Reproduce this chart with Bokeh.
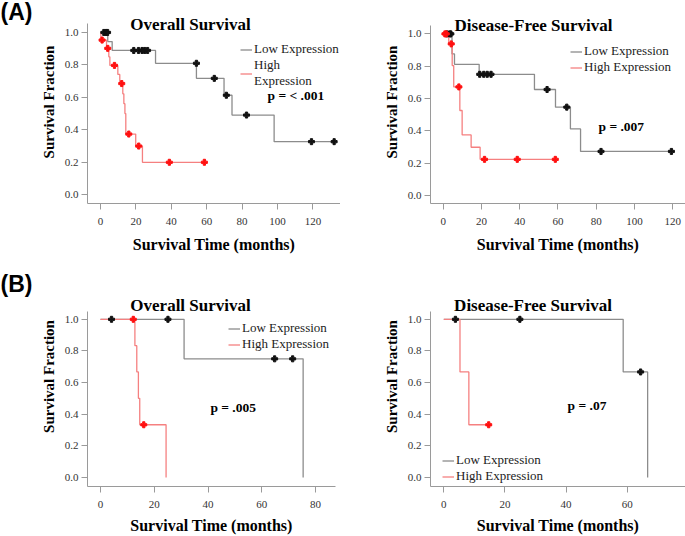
from bokeh.plotting import figure
from bokeh.layouts import row, column
from bokeh.models import (FixedTicker, Label, Range1d, Legend, LegendItem,
                          PrintfTickFormatter)
from bokeh.embed import file_html
from bokeh.resources import INLINE

# ---------------- data ----------------
y_ticks = [0.0, 0.2, 0.4, 0.6, 0.8, 1.0]

# (A) Overall Survival
a_os_x_ticks = [0, 20, 40, 60, 80, 100, 120]
a_os_low_time = [0, 4.1, 6.6, 31.1, 54.2, 69.8, 74.3, 98.1, 132.0]
a_os_low_surv = [1.0, 0.944, 0.889, 0.810, 0.717, 0.613, 0.491, 0.327, 0.327]
a_os_low_cens_t = [1.9, 3.2, 4.0, 18.8, 21.5, 23.5, 25.0, 26.6, 54.2, 64.3, 71.1, 82.5, 119.2, 132.0]
a_os_low_cens_s = [1.0, 1.0, 1.0, 0.889, 0.889, 0.889, 0.889, 0.889, 0.810, 0.717, 0.613, 0.491, 0.327, 0.327]
a_os_high_time = [0, 0.2, 3.4, 4.7, 5.3, 9.8, 10.9, 12.6, 13.2, 13.8, 14.3, 19.9, 23.7, 58.7]
a_os_high_surv = [1.0, 0.953, 0.902, 0.850, 0.797, 0.741, 0.685, 0.622, 0.561, 0.500, 0.374, 0.300, 0.200, 0.200]
a_os_high_cens_t = [0.9, 4.1, 7.9, 12.0, 16.0, 21.6, 38.9, 58.7]
a_os_high_cens_s = [0.953, 0.902, 0.797, 0.685, 0.374, 0.300, 0.200, 0.200]

# (A) Disease-Free Survival
a_dfs_x_ticks = [0, 20, 40, 60, 80, 100, 120]
a_dfs_low_time = [0, 4.6, 5.9, 18.8, 47.7, 58.7, 66.5, 71.8, 119.3]
a_dfs_low_surv = [1.0, 0.876, 0.812, 0.750, 0.656, 0.547, 0.412, 0.273, 0.273]
a_dfs_low_cens_t = [2.0, 3.4, 4.0, 19.1, 21.2, 23.0, 25.0, 54.3, 64.6, 82.5, 119.3]
a_dfs_low_cens_s = [1.0, 1.0, 1.0, 0.750, 0.750, 0.750, 0.750, 0.656, 0.547, 0.273, 0.273]
a_dfs_high_time = [0, 2.9, 4.7, 5.5, 8.7, 9.9, 14.6, 19.3, 58.6]
a_dfs_high_surv = [1.0, 0.938, 0.804, 0.672, 0.526, 0.375, 0.299, 0.224, 0.224]
a_dfs_high_cens_t = [0.9, 1.6, 4.2, 8.2, 21.6, 38.7, 58.6]
a_dfs_high_cens_s = [1.0, 1.0, 0.938, 0.672, 0.224, 0.224, 0.224]

# (B) Overall Survival
b_os_x_ticks = [0, 20, 40, 60, 80]
b_os_low_time = [0, 31.1, 75.4]
b_os_low_surv = [1.0, 0.75, 0.0]
b_os_low_cens_t = [4.1, 25.1, 64.8, 71.5]
b_os_low_cens_s = [1.0, 1.0, 0.75, 0.75]
b_os_high_time = [0, 12.8, 13.5, 14.1, 14.6, 24.4]
b_os_high_surv = [1.0, 0.833, 0.667, 0.500, 0.333, 0.0]
b_os_high_cens_t = [12.2, 16.1]
b_os_high_cens_s = [1.0, 0.333]

# (B) Disease-Free Survival
b_dfs_x_ticks = [0, 20, 40, 60]
b_dfs_low_time = [0, 58.7, 66.7]
b_dfs_low_surv = [1.0, 0.667, 0.0]
b_dfs_low_cens_t = [3.8, 24.9, 64.4]
b_dfs_low_cens_s = [1.0, 1.0, 0.667]
b_dfs_high_time = [0, 5.3, 8.2, 14.7]
b_dfs_high_surv = [1.0, 0.667, 0.333, 0.333]
b_dfs_high_cens_t = [14.7]
b_dfs_high_cens_s = [0.333]

# ---------------- styling ----------------
SERIF = "Liberation Serif"
SANS = "Liberation Sans"
LOW_LINE = "#8c8c8c"
HIGH_LINE = "#f58080"
LOW_MARK = "#111111"
HIGH_MARK = "#ff1010"
AXIS_COL = "#9a9a9a"
TICK_TXT = "#333333"


def letter_fig(width, height, text, pos):
    p = figure(width=width, height=height, x_range=Range1d(0, width),
               y_range=Range1d(0, height), x_axis_type=None, y_axis_type=None,
               output_backend="svg", toolbar_location=None,
               min_border_left=0, min_border_right=0, min_border_top=0,
               min_border_bottom=0)
    p.outline_line_color = None
    p.xgrid.visible = False
    p.ygrid.visible = False
    p.add_layout(Label(x=pos[0], y=pos[1], text=text, text_align="left",
                       text_baseline="middle", text_font=SANS,
                       text_font_style="bold", text_font_size="23px",
                       text_color="#000000"))
    return p


def panel(width, height, borders, xr, yr, ybounds, xticks,
          low, high, title, title_xy, pval, pval_xy,
          legend_loc, high_label, xstand):
    p = figure(width=width, height=height,
               x_range=Range1d(*xr), y_range=Range1d(*yr),
               output_backend="svg", toolbar_location=None,
               min_border_left=borders[0], min_border_right=borders[1],
               min_border_top=borders[2], min_border_bottom=borders[3])
    p.outline_line_color = None
    p.xgrid.visible = False
    p.ygrid.visible = False
    p.background_fill_color = "white"
    p.border_fill_color = "white"

    for ax in (p.xaxis[0], p.yaxis[0]):
        ax.axis_line_color = AXIS_COL
        ax.axis_line_width = 1
        ax.major_tick_line_color = AXIS_COL
        ax.major_tick_in = 0
        ax.major_tick_out = 6
        ax.minor_tick_line_color = None
        ax.major_label_text_font = SERIF
        ax.major_label_text_font_size = "11px"
        ax.major_label_text_color = TICK_TXT
        ax.axis_label_text_font = SERIF
        ax.axis_label_text_font_style = "bold"
        ax.axis_label_text_color = "#000000"

    p.yaxis.ticker = FixedTicker(ticks=y_ticks)
    p.yaxis.formatter = PrintfTickFormatter(format="%.1f")
    p.yaxis.bounds = ybounds
    p.yaxis.major_label_standoff = 3
    p.yaxis.axis_label = "Survival Fraction"
    p.yaxis.axis_label_text_font_size = "15px"
    p.yaxis.axis_label_standoff = 5

    p.xaxis.ticker = FixedTicker(ticks=xticks)
    p.xaxis.major_label_standoff = xstand[0]
    p.xaxis.axis_label = "Survival Time (months)"
    p.xaxis.axis_label_text_font_size = "16px"
    p.xaxis.axis_label_standoff = xstand[1]

    lt, ls, lct, lcs = low
    ht, hs, hct, hcs = high
    r_low = p.step(x=lt, y=ls, mode="after", line_color=LOW_LINE, line_width=1.3)
    r_high = p.step(x=ht, y=hs, mode="after", line_color=HIGH_LINE, line_width=1.3)
    p.scatter(x=lct, y=lcs, marker="plus", size=6, color=LOW_MARK)
    p.scatter(x=hct, y=hcs, marker="plus", size=6, color=HIGH_MARK)

    legend = Legend(items=[LegendItem(label="Low Expression", renderers=[r_low]),
                           LegendItem(label=high_label, renderers=[r_high])],
                    location=legend_loc)
    legend.label_text_font = SERIF
    legend.label_text_font_size = "13px"
    legend.label_text_color = "#222222"
    legend.label_height = 13
    legend.glyph_height = 13
    legend.glyph_width = 12
    legend.label_standoff = 2
    legend.spacing = 0
    legend.padding = 0
    legend.margin = 0
    legend.border_line_color = None
    legend.background_fill_alpha = 0
    p.add_layout(legend)

    p.add_layout(Label(x=title_xy[0], y=title_xy[1], text=title,
                       text_align="center", text_baseline="middle",
                       text_font=SERIF, text_font_style="bold",
                       text_font_size="17px", text_color="#000000"))
    p.add_layout(Label(x=pval_xy[0], y=pval_xy[1], text=pval,
                       text_align="left", text_baseline="middle",
                       text_font=SERIF, text_font_style="bold",
                       text_font_size="13.5px", text_color="#000000"))
    return p


letA = letter_fig(34, 266, "(A)", (0, 251))
pA1 = panel(306, 266, (53, 0, 0, 58), (-7.34, 135.6), (-0.054, 1.1968), (-0.054, 1.058),
            a_os_x_ticks,
            (a_os_low_time, a_os_low_surv, a_os_low_cens_t, a_os_low_cens_s),
            (a_os_high_time, a_os_high_surv, a_os_high_cens_t, a_os_high_cens_s),
            "Overall Survival", (50.8, 1.046), "p = < .001", (94.4, 0.613),
            (153, 114), "High\nExpression", (8, 8))

pA2 = panel(345, 266, (90, 0, 0, 63), (-6.64, 126.66), (-0.049, 1.2064), (-0.049, 1.051),
            a_dfs_x_ticks,
            (a_dfs_low_time, a_dfs_low_surv, a_dfs_low_cens_t, a_dfs_low_cens_s),
            (a_dfs_high_time, a_dfs_high_surv, a_dfs_high_cens_t, a_dfs_high_cens_s),
            "Disease-Free Survival", (47.2, 1.051), "p = .007", (81.2, 0.427),
            (140, 128), "High Expression", (8, 8))

letB = letter_fig(34, 270, "(B)", (0, 249))
pB1 = panel(306, 270, (53, 5, 0, 45), (-4.837, 87.44), (-0.0575, 1.334), (-0.0575, 1.0495),
            b_os_x_ticks,
            (b_os_low_time, b_os_low_surv, b_os_low_cens_t, b_os_low_cens_s),
            (b_os_high_time, b_os_high_surv, b_os_high_cens_t, b_os_high_cens_s),
            "Overall Survival", (33.5, 1.0897), "p = .005", (40.9, 0.443),
            (141, 134), "High Expression", (8, 6))

pB2 = panel(345, 270, (90, 0, 0, 45), (-4.35, 79.09), (-0.0575, 1.334), (-0.0575, 1.0495),
            b_dfs_x_ticks,
            (b_dfs_low_time, b_dfs_low_surv, b_dfs_low_cens_t, b_dfs_low_cens_s),
            (b_dfs_high_time, b_dfs_high_surv, b_dfs_high_cens_t, b_dfs_high_cens_s),
            "Disease-Free Survival", (29.2, 1.0897), "p = .07", (40.5, 0.456),
            (12, 2), "High Expression", (8, 6))

layout = column(row(letA, pA1, pA2), row(letB, pB1, pB2))

with open("out.html", "w") as f:
    f.write(file_html(layout, INLINE))
